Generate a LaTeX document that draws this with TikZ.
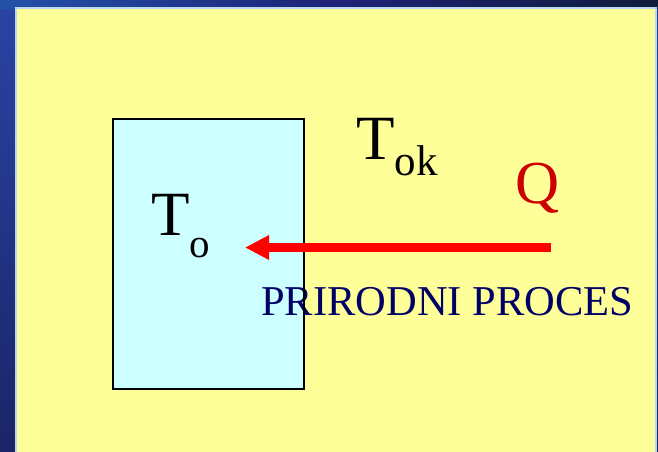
\documentclass[tikz,border=0pt]{standalone}
\usepackage{fontspec}
\setmainfont{Liberation Serif}
\usetikzlibrary{arrows.meta}
\definecolor{slideyellow}{HTML}{FFFF99}
\definecolor{boxcyan}{HTML}{CCFFFF}
\definecolor{navytext}{HTML}{000066}
\definecolor{qred}{HTML}{CC0000}
\definecolor{rimblue}{HTML}{B8D8F0}
\definecolor{bgA}{HTML}{2A44A6}
\definecolor{bgB}{HTML}{1B2466}
\definecolor{topL}{HTML}{2352A8}
\definecolor{topM}{HTML}{1E2378}
\definecolor{topR}{HTML}{0F1D3C}
\tikzset{
  lbl/.style={inner sep=0pt, anchor=base west},
  bigT/.style={lbl, font=\fontsize{63}{63}\selectfont},
  procbox/.style={fill=boxcyan, minimum width=191pt, minimum height=270pt, inner sep=0pt},
  boxrim/.style={draw=black, line width=2.2pt},
  heatarrow/.style={draw=red, line width=9pt, -{Triangle[length=24pt,width=23pt]}}
}
\begin{document}
\begin{tikzpicture}[x=1pt,y=-1pt]
\useasboundingbox (0,0) rectangle (658,451);
% background
\shade[top color=bgA, bottom color=bgB] (0,0) rectangle (658,451);
\shade[left color=topL, right color=topR, middle color=topM] (0,0) rectangle (658,8);
% slide panel
\fill[slideyellow] (16,8) rectangle (656,460);
\draw[rimblue, line width=1.5pt] (16,460) -- (16,8) -- (656,8) -- (656,460);
% box fill
\node[procbox] (box) at (208.5,254) {};
% text
\node[lbl, text=navytext, font=\fontsize{42.5}{42.5}\selectfont] (proc) at (261,315) {PRIRODNI PROCES};
% box border
\draw[boxrim] (box.north west) rectangle (box.south east);
\node[bigT] (To) at (151,235) {T\raisebox{-22pt}{\fontsize{41}{41}\selectfont o}};
\node[bigT] (Tok) at (356,159) {T\raisebox{-16pt}{\fontsize{43}{43}\selectfont ok}};
\node[lbl, text=qred, font=\fontsize{61}{61}\selectfont] (Q) at (515,203) {Q};
% arrow
\coordinate (qsrc) at (551,247.5);
\coordinate (tip) at (245,247.5);
\draw[heatarrow] (qsrc) -- (tip);
\end{tikzpicture}
\end{document}
